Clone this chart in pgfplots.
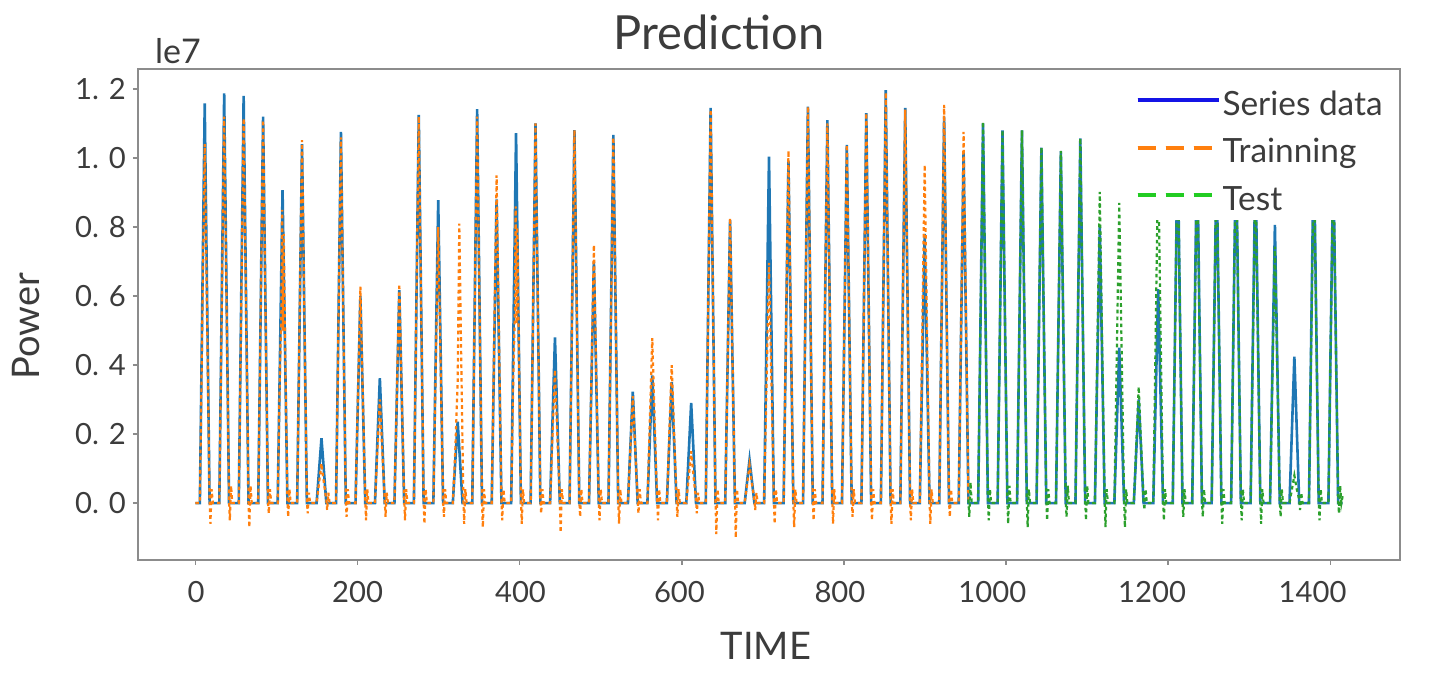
\documentclass[border=0pt]{standalone}
\usepackage{fontspec}
\setmainfont{Lato}
\usepackage{pgfplots}
\pgfplotsset{compat=1.18}
\definecolor{txt}{HTML}{3C3C3C}
\definecolor{frame}{HTML}{8C8C8C}
\definecolor{sblue}{HTML}{1F77B4}
\definecolor{sorange}{HTML}{FF7F0E}
\definecolor{sgreen}{HTML}{2CA02C}
\definecolor{lblue}{HTML}{1414E6}
\definecolor{lgreen}{HTML}{22CC22}
\begin{document}
\begin{tikzpicture}
\path[use as bounding box] (-69pt,-59.5pt) rectangle (646.5pt,280pt);
\begin{axis}[
  at={(0pt,0pt)}, anchor=south west,
  width=631pt, height=245.5pt, scale only axis,
  xmin=-70.8, xmax=1485.8, ymin=-0.165, ymax=1.258,
  axis line style={draw=frame, line width=1.1pt},
  xtick={0,200,400,600,800,1000,1200,1400},
  xticklabels={,,,,,,,},
  extra x ticks={1,200,401,597,795,983,1180,1378},
  extra x tick labels={0,200,400,600,800,1000,1200,1400},
  extra x tick style={major tick length=0pt, xticklabel style={yshift=-7pt}},
  ytick={0,0.2,0.4,0.6,0.8,1.0,1.2},
  yticklabels={0. 0,0. 2,0. 4,0. 6,0. 8,1. 0,1. 2},
  xtick pos=lower, ytick pos=left,
  tick align=outside, major tick length=2.5pt,
  tick style={draw=frame, line width=0.8pt},
  ticklabel style={font=\fontsize{14.6}{16}\selectfont, text=txt},
  legend style={at={(0.9945,0.988)}, anchor=north east, draw=none, fill=white,
    font=\fontsize{16.7}{20}\selectfont, text=txt, inner xsep=4pt, inner ysep=4pt,
    row sep=6.75pt, nodes={inner sep=1pt, text height=15pt, text depth=0pt}},
  legend cell align=left,
  legend image code/.code={\draw[#1] (0pt,0pt) -- (33pt,0pt); \path (0pt,0pt) -- (40.5pt,0pt);},
]
\addlegendimage{lblue, line width=2pt}
\addlegendentry{Series data}
\addlegendimage{sorange, line width=2pt, dash pattern=on 9pt off 5pt}
\addlegendentry{Trainning}
\addlegendimage{lgreen, line width=2pt, dash pattern=on 9pt off 5pt}
\addlegendentry{Test}

% Series data
\addplot[sblue, line width=1.3pt, forget plot] table {
t v
0 0
5.5 0
8.5 0.579
11.5 1.158
14.5 0.579
17.5 0
29.5 0
32.5 0.594
35.5 1.187
38.5 0.594
41.5 0
53.5 0
56.5 0.59
59.5 1.18
62.5 0.59
65.5 0
77.5 0
80.5 0.56
83.5 1.12
86.5 0.56
89.5 0
101.5 0
104.5 0.454
107.5 0.907
110.5 0.454
113.5 0
125.5 0
128.5 0.52
131.5 1.04
134.5 0.52
137.5 0
149.5 0
152.5 0.094
155.5 0.188
158.5 0.094
161.5 0
173.5 0
176.5 0.538
179.5 1.076
182.5 0.538
185.5 0
197.5 0
200.5 0.30
203.5 0.60
206.5 0.30
209.5 0
221.5 0
224.5 0.181
227.5 0.362
230.5 0.181
233.5 0
245.5 0
248.5 0.309
251.5 0.617
254.5 0.309
257.5 0
269.5 0
272.5 0.563
275.5 1.125
278.5 0.563
281.5 0
293.5 0
296.5 0.439
299.5 0.878
302.5 0.439
305.5 0
317.5 0
320.5 0.118
323.5 0.236
326.5 0.118
329.5 0
341.5 0
344.5 0.571
347.5 1.142
350.5 0.571
353.5 0
365.5 0
368.5 0.44
371.5 0.88
374.5 0.44
377.5 0
389.5 0
392.5 0.536
395.5 1.072
398.5 0.536
401.5 0
413.5 0
416.5 0.55
419.5 1.10
422.5 0.55
425.5 0
437.5 0
440.5 0.24
443.5 0.48
446.5 0.24
449.5 0
461.5 0
464.5 0.541
467.5 1.081
470.5 0.541
473.5 0
485.5 0
488.5 0.35
491.5 0.70
494.5 0.35
497.5 0
509.5 0
512.5 0.534
515.5 1.067
518.5 0.534
521.5 0
533.5 0
536.5 0.162
539.5 0.323
542.5 0.162
545.5 0
557.5 0
560.5 0.185
563.5 0.37
566.5 0.185
569.5 0
581.5 0
584.5 0.175
587.5 0.35
590.5 0.175
593.5 0
605.5 0
608.5 0.145
611.5 0.29
614.5 0.145
617.5 0
629.5 0
632.5 0.573
635.5 1.145
638.5 0.573
641.5 0
653.5 0
656.5 0.41
659.5 0.82
662.5 0.41
665.5 0
677.5 0
680.5 0.063
683.5 0.125
686.5 0.063
689.5 0
701.5 0
704.5 0.502
707.5 1.004
710.5 0.502
713.5 0
725.5 0
728.5 0.495
731.5 0.99
734.5 0.495
737.5 0
749.5 0
752.5 0.575
755.5 1.149
758.5 0.575
761.5 0
773.5 0
776.5 0.555
779.5 1.11
782.5 0.555
785.5 0
797.5 0
800.5 0.519
803.5 1.038
806.5 0.519
809.5 0
821.5 0
824.5 0.565
827.5 1.13
830.5 0.565
833.5 0
845.5 0
848.5 0.599
851.5 1.197
854.5 0.599
857.5 0
869.5 0
872.5 0.573
875.5 1.145
878.5 0.573
881.5 0
893.5 0
896.5 0.39
899.5 0.78
902.5 0.39
905.5 0
917.5 0
920.5 0.56
923.5 1.12
926.5 0.56
929.5 0
941.5 0
944.5 0.509
947.5 1.018
950.5 0.509
953.5 0
965.5 0
968.5 0.55
971.5 1.10
974.5 0.55
977.5 0
989.5 0
992.5 0.54
995.5 1.08
998.5 0.54
1001.5 0
1013.5 0
1016.5 0.54
1019.5 1.08
1022.5 0.54
1025.5 0
1037.5 0
1040.5 0.515
1043.5 1.03
1046.5 0.515
1049.5 0
1061.5 0
1064.5 0.51
1067.5 1.02
1070.5 0.51
1073.5 0
1085.5 0
1088.5 0.529
1091.5 1.057
1094.5 0.529
1097.5 0
1109.5 0
1112.5 0.40
1115.5 0.80
1118.5 0.40
1121.5 0
1133.5 0
1136.5 0.225
1139.5 0.45
1142.5 0.225
1145.5 0
1157.5 0
1160.5 0.15
1163.5 0.30
1166.5 0.15
1169.5 0
1181.5 0
1184.5 0.31
1187.5 0.62
1190.5 0.31
1193.5 0
1205.5 0
1208.5 0.525
1211.5 1.05
1214.5 0.525
1217.5 0
1229.5 0
1232.5 0.525
1235.5 1.05
1238.5 0.525
1241.5 0
1253.5 0
1256.5 0.50
1259.5 1.00
1262.5 0.50
1265.5 0
1277.5 0
1280.5 0.525
1283.5 1.05
1286.5 0.525
1289.5 0
1301.5 0
1304.5 0.50
1307.5 1.00
1310.5 0.50
1313.5 0
1325.5 0
1328.5 0.403
1331.5 0.806
1334.5 0.403
1337.5 0
1349.5 0
1352.5 0.212
1355.5 0.424
1358.5 0.212
1361.5 0
1373.5 0
1376.5 0.525
1379.5 1.05
1382.5 0.525
1385.5 0
1397.5 0
1400.5 0.50
1403.5 1.00
1406.5 0.50
1409.5 0
1415 0
};

% Trainning
\addplot[sorange, line width=1.1pt, dash pattern=on 1.8pt off 1.6pt, forget plot] table {
t v
0 0
5.5 0
8.5 0.52
11.5 1.04
14.5 0.52
17.5 0.01
18.5 -0.06
20 0.04
21.5 0
29.5 0
32.5 0.56
35.5 1.12
38.5 0.56
41.5 0.01
42.5 -0.05
44 0.05
45.5 0
53.5 0
56.5 0.558
59.5 1.115
62.5 0.558
65.5 0.01
66.5 -0.07
68 0.05
69.5 0
77.5 0
80.5 0.555
83.5 1.11
86.5 0.555
89.5 0.01
90.5 -0.03
92 0.04
93.5 0
101.5 0
104 0.35
106 0.55
107 0.85
108 0.5
109 0.78
111 0.4
113.5 0.01
114.5 -0.04
116 0.04
117.5 0
125.5 0
128.5 0.526
131.5 1.052
134.5 0.526
137.5 0.01
138.5 -0.03
140 0.03
141.5 0
149.5 0
152.5 0.058
155.5 0.115
158.5 0.058
161.5 0.01
162.5 -0.02
164 0.03
165.5 0
173.5 0
176.5 0.53
179.5 1.06
182.5 0.53
185.5 0.01
186.5 -0.04
188 0.04
189.5 0
197.5 0
200.5 0.314
203.5 0.627
206.5 0.314
209.5 0.01
210.5 -0.05
212 0.04
213.5 0
221.5 0
224.5 0.15
227.5 0.30
230.5 0.15
233.5 0.01
234.5 -0.04
236 0.03
237.5 0
245.5 0
248.5 0.318
251.5 0.635
254.5 0.318
257.5 0.01
258.5 -0.05
260 0.04
261.5 0
269.5 0
272.5 0.56
275.5 1.12
278.5 0.56
281.5 0.01
282.5 -0.06
284 0.04
285.5 0
293.5 0
296.5 0.40
299.5 0.80
302.5 0.40
305.5 0.01
306.5 -0.04
308 0.04
309.5 0
317.5 0
320.5 0.15
323.5 0.35
325.5 0.81
328 0.40
330.5 0.01
331.5 -0.06
333 0.04
334.5 0
341.5 0
344.5 0.56
347.5 1.12
350.5 0.56
353.5 0.01
354.5 -0.07
356 0.04
357.5 0
365.5 0
368.5 0.475
371.5 0.95
374.5 0.475
377.5 0.01
378.5 -0.05
380 0.04
381.5 0
389.5 0
392 0.35
394 0.55
395 0.86
396 0.52
397 0.80
399 0.45
401.5 0.01
402.5 -0.06
404 0.04
405.5 0
413.5 0
416.5 0.55
419.5 1.10
422.5 0.55
425.5 0.01
426.5 -0.03
428 0.04
429.5 0
437.5 0
440.5 0.193
443.5 0.386
446.5 0.193
449.5 0.01
450.5 -0.085
452 0.04
453.5 0
461.5 0
464.5 0.541
467.5 1.081
470.5 0.541
473.5 0.01
474.5 -0.04
476 0.04
477.5 0
485.5 0
488.5 0.374
491.5 0.748
494.5 0.374
497.5 0.01
498.5 -0.05
500 0.04
501.5 0
509.5 0
512.5 0.53
515.5 1.06
518.5 0.53
521.5 0.01
522.5 -0.06
524 0.04
525.5 0
533.5 0
536.5 0.155
539.5 0.31
542.5 0.155
545.5 0.01
546.5 -0.03
548 0.04
549.5 0
557.5 0
560.5 0.239
563.5 0.478
566.5 0.239
569.5 0.01
570.5 -0.05
572 0.04
573.5 0
581.5 0
584.5 0.20
587.5 0.40
590.5 0.20
593.5 0.01
594.5 -0.04
596 0.04
597.5 0
605.5 0
608.5 0.075
611.5 0.15
614.5 0.075
617.5 0.01
618.5 -0.03
620 0.03
621.5 0
629.5 0
632.5 0.57
635.5 1.14
638.5 0.57
641.5 0.01
642.5 -0.09
644 0.04
645.5 0
653.5 0
656.5 0.413
659.5 0.826
662.5 0.413
665.5 0.01
666.5 -0.10
668 0.04
669.5 0
677.5 0
680.5 0.055
683.5 0.11
686.5 0.055
689.5 0.01
690.5 -0.02
692 0.03
693.5 0
701.5 0
704.5 0.348
707.5 0.696
710.5 0.348
713.5 0.01
714.5 -0.06
716 0.04
717.5 0
725.5 0
728.5 0.511
731.5 1.021
734.5 0.511
737.5 0.01
738.5 -0.07
740 0.04
741.5 0
749.5 0
752.5 0.575
755.5 1.149
758.5 0.575
761.5 0.01
762.5 -0.05
764 0.04
765.5 0
773.5 0
776.5 0.55
779.5 1.10
782.5 0.55
785.5 0.01
786.5 -0.06
788 0.04
789.5 0
797.5 0
800.5 0.519
803.5 1.038
806.5 0.519
809.5 0.01
810.5 -0.04
812 0.04
813.5 0
821.5 0
824.5 0.565
827.5 1.13
830.5 0.565
833.5 0.01
834.5 -0.05
836 0.04
837.5 0
845.5 0
848.5 0.595
851.5 1.19
854.5 0.595
857.5 0.01
858.5 -0.06
860 0.04
861.5 0
869.5 0
872.5 0.57
875.5 1.14
878.5 0.57
881.5 0.01
882.5 -0.05
884 0.04
885.5 0
893.5 0
896.5 0.49
899.5 0.98
902.5 0.49
905.5 0.01
906.5 -0.06
908 0.04
909.5 0
917.5 0
920.5 0.577
923.5 1.154
926.5 0.577
929.5 0.01
930.5 -0.04
932 0.04
933.5 0
941.5 0
944.5 0.538
947.5 1.076
950.5 0.538
953.5 0.01
};

% Test
\addplot[sgreen, line width=1.1pt, dash pattern=on 1.8pt off 1.6pt, forget plot] table {
t v
953.5 0.01
954.5 -0.04
956 0.06
957.5 0
965.5 0
968.5 0.553
971.5 1.105
974.5 0.553
977.5 0.01
978.5 -0.05
980 0.04
981.5 0
989.5 0
992.5 0.541
995.5 1.081
998.5 0.541
1001.5 0.01
1002.5 -0.06
1004 0.05
1005.5 0
1013.5 0
1016.5 0.541
1019.5 1.081
1022.5 0.541
1025.5 0.01
1026.5 -0.07
1028 0.04
1029.5 0
1037.5 0
1040.5 0.516
1043.5 1.031
1046.5 0.516
1049.5 0.01
1050.5 -0.05
1052 0.04
1053.5 0
1061.5 0
1064.5 0.511
1067.5 1.021
1070.5 0.511
1073.5 0.01
1074.5 -0.04
1076 0.05
1077.5 0
1085.5 0
1088.5 0.529
1091.5 1.057
1094.5 0.529
1097.5 0.01
1098.5 -0.05
1100 0.05
1101.5 0
1109.5 0
1112.5 0.451
1115.5 0.902
1118.5 0.451
1121.5 0.01
1122.5 -0.07
1124 0.04
1125.5 0
1133.5 0
1136.5 0.435
1139.5 0.87
1142.5 0.435
1145.5 0.01
1146.5 -0.07
1148 0.04
1149.5 0
1157.5 0
1160.5 0.169
1163.5 0.337
1166.5 0.169
1169.5 0.01
1170.5 -0.02
1172 0.04
1173.5 0
1181.5 0
1184.5 0.50
1187.5 1.00
1190.5 0.50
1193.5 0.01
1194.5 -0.05
1196 0.04
1197.5 0
1205.5 0
1208.5 0.525
1211.5 1.05
1214.5 0.525
1217.5 0.01
1218.5 -0.04
1220 0.04
1221.5 0
1229.5 0
1232.5 0.50
1235.5 1.00
1238.5 0.50
1241.5 0.01
1242.5 -0.04
1244 0.04
1245.5 0
1253.5 0
1256.5 0.50
1259.5 1.00
1262.5 0.50
1265.5 0.01
1266.5 -0.06
1268 0.04
1269.5 0
1277.5 0
1280.5 0.525
1283.5 1.05
1286.5 0.525
1289.5 0.01
1290.5 -0.05
1292 0.04
1293.5 0
1301.5 0
1304.5 0.475
1307.5 0.95
1310.5 0.475
1313.5 0.01
1314.5 -0.06
1316 0.04
1317.5 0
1325.5 0
1328.5 0.372
1331.5 0.743
1334.5 0.372
1337.5 0.01
1338.5 -0.04
1340 0.04
1341.5 0
1349.5 0
1352.5 0.04
1355.5 0.08
1358.5 0.04
1361.5 0.01
1362.5 -0.02
1364 0.03
1365.5 0
1373.5 0
1376.5 0.50
1379.5 1.00
1382.5 0.50
1385.5 0.01
1386.5 -0.05
1388 0.04
1389.5 0
1397.5 0
1400.5 0.50
1403.5 1.00
1406.5 0.50
1409.5 0.01
1410.5 -0.03
1412 0.05
1413.5 0
1415 0.02
};
\end{axis}
\node[anchor=base, font=\fontsize{23.5}{26}\selectfont, text=txt] at (290.5pt,255pt) {Prediction};
\node[anchor=base, font=\fontsize{19}{22}\selectfont, text=txt] at (314pt,-50pt) {TIME};
\node[anchor=base, rotate=90, font=\fontsize{19}{22}\selectfont, text=txt] at (-49pt,117pt) {Power};
\node[anchor=base west, font=\fontsize{17}{20}\selectfont, text=txt] at (5pt,248pt) {le7};
\end{tikzpicture}
\end{document}
